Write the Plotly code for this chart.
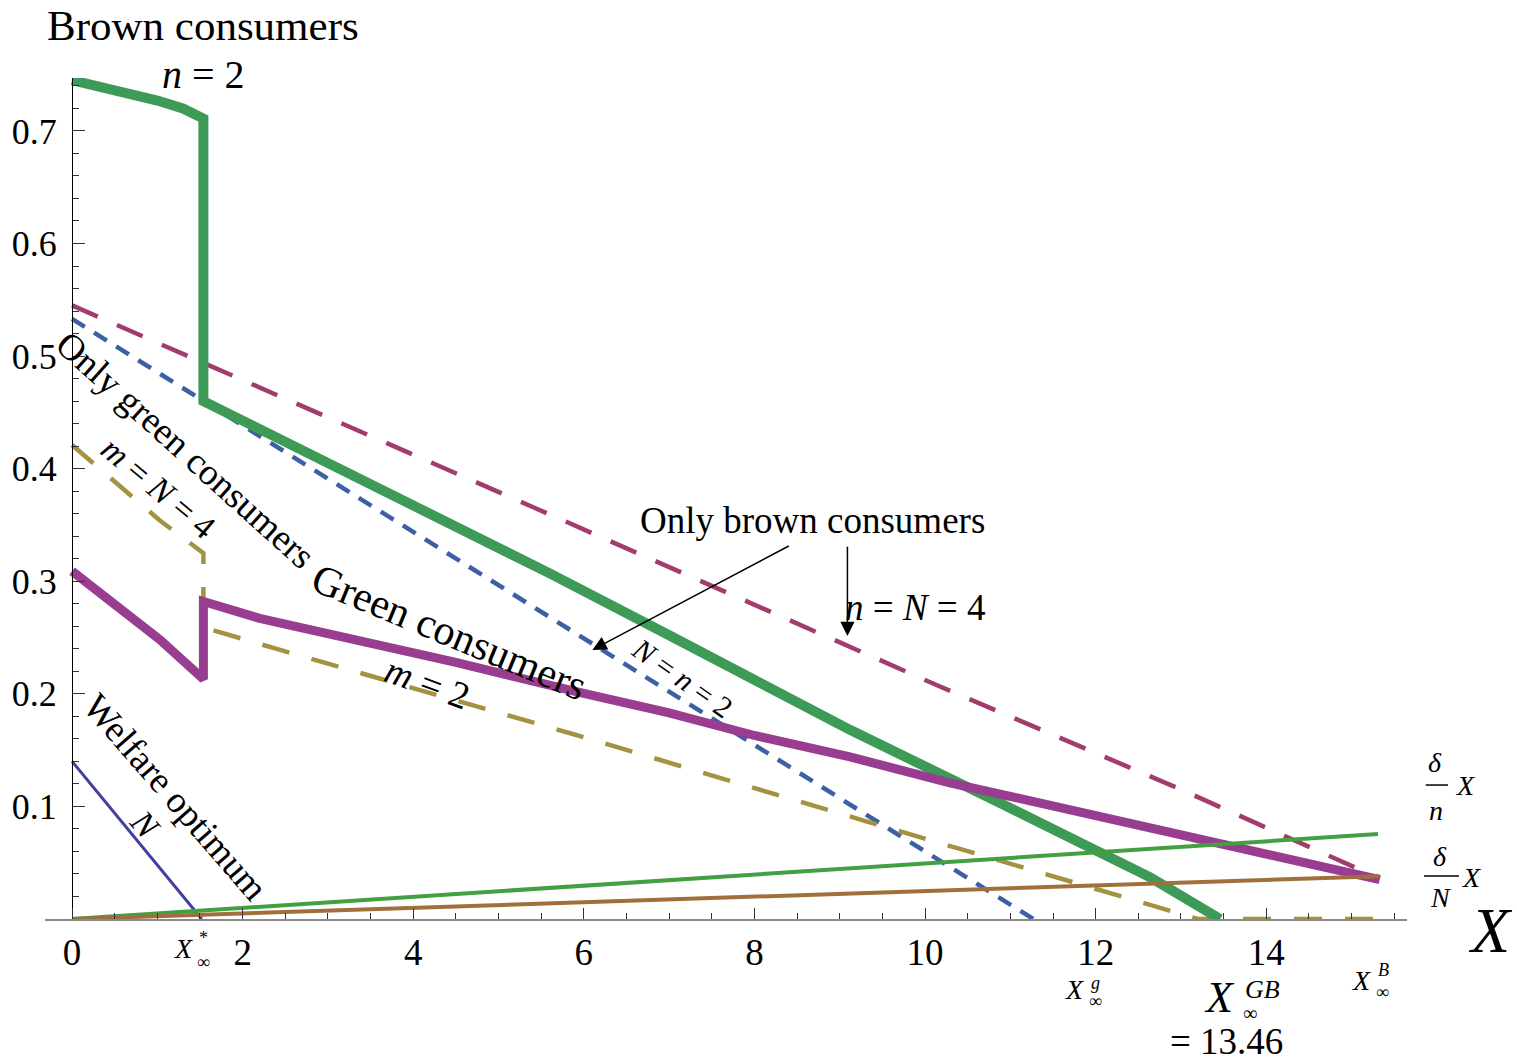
import plotly.graph_objects as go

# ---- data -------------------------------------------------------------
# Brown consumers, n = 2 (thick green)
brown_n2_x = [0, 0.5, 1.0, 1.3, 1.54, 1.54, 2.5, 4.0, 5.6, 7.0, 9.12, 10.88, 12.64, 13.46]
brown_n2_y = [0.745, 0.737, 0.727, 0.720, 0.711, 0.460, 0.424, 0.366, 0.307, 0.252, 0.168, 0.103, 0.037, 0.0]

# Green consumers, m = 2 (thick purple)
green_m2_x = [0, 0.33, 1.03, 1.54, 1.54, 2.2, 3.38, 4.5, 5.96, 7.0, 8.0, 9.12, 10.29, 11.47, 12.64, 13.81, 15.33]
green_m2_y = [0.309, 0.290, 0.248, 0.213, 0.282, 0.267, 0.248, 0.228, 0.201, 0.183, 0.163, 0.144, 0.121, 0.101, 0.082, 0.061, 0.035]

# Only brown consumers, n = N = 4 (dashed)
brown_n4_x = [0, 5.4, 10.1, 13.0, 15.33]
brown_n4_y = [0.545, 0.366, 0.209, 0.115, 0.036]

# Only brown consumers, N = n = 2 (dashed)
brown_N2_x = [0, 9.2, 11.27]
brown_N2_y = [0.533, 0.097, 0.0]

# Only green consumers, m = N = 4 (dashed)
green_N4_x = [0, 1.03, 1.54, 1.54, 2.44, 5.84, 9.3, 11.2, 13.2, 15.33]
green_N4_y = [0.421, 0.354, 0.325, 0.259, 0.239, 0.165, 0.087, 0.045, 0.0, 0.0]

# Welfare optimum N
welfare_x = [0, 1.52]
welfare_y = [0.14, 0.0]

# delta/n * X and delta/N * X
dn_x = [0, 9.12, 12.64, 15.31]
dn_y = [0, 0.0453, 0.063, 0.0755]
dN_x = [0, 9.12, 15.33]
dN_y = [0, 0.023, 0.038]

x_ticks = [0, 2, 4, 6, 8, 10, 12, 14]
y_ticks = [0.1, 0.2, 0.3, 0.4, 0.5, 0.6, 0.7]

# ---- style -----------------------------------------------------------
SERIF = "Liberation Serif"
W, H = 1517, 1062
ML, MR, MT, MB = 45, 110, 78, 143
XR = [-0.317, 15.65]
YR = [0.0, 0.747]

fig = go.Figure()


def line(x, y, color, width, dash="solid"):
    fig.add_trace(go.Scatter(x=x, y=y, mode="lines", cliponaxis=False,
                             line=dict(color=color, width=width, dash=dash),
                             hoverinfo="skip", showlegend=False))


line(brown_n4_x, brown_n4_y, "#a23c6e", 4.5, "28px,21px")
line(brown_N2_x, brown_N2_y, "#3d5fa6", 4.5, "15px,11px")
line(green_N4_x, green_N4_y, "#a39340", 4.5, "28px,23px")
line(brown_n2_x, brown_n2_y, "#3d9b57", 10)
line(green_m2_x, green_m2_y, "#993d91", 9)
line(welfare_x, welfare_y, "#3f3fa0", 3)
line(dn_x, dn_y, "#42a042", 4)
line(dN_x, dN_y, "#a0703c", 4)

annotations = []
shapes = []


def to_paper(x, y):
    return (x - XR[0]) / (XR[1] - XR[0]), (y - YR[0]) / (YR[1] - YR[0])


def label(text, x, y, size, angle=0):
    px, py = to_paper(x, y)
    annotations.append(dict(text=text, x=px, y=py, xref="paper", yref="paper",
                            showarrow=False, textangle=angle,
                            xanchor="center", yanchor="middle",
                            font=dict(family=SERIF, size=size, color="black")))


def bar(x0, x1, y):
    p0, q = to_paper(x0, y)
    p1, _ = to_paper(x1, y)
    shapes.append(dict(type="line", xref="paper", yref="paper", x0=p0, x1=p1, y0=q, y1=q,
                       line=dict(color="black", width=1.5)))


# curve labels
label("Brown consumers", 1.536, 0.794, 43)
label("<i>n</i> = 2", 1.536, 0.750, 40)
label("Only green consumers", 1.325, 0.4166, 37, 42)
label("<i>m</i> = <i>N</i> = 4", 1.008, 0.383, 34, 40)
label("Green consumers", 4.42, 0.255, 42, 22.5)
label("<i>m</i> = 2", 4.17, 0.2096, 38, 20)
label("Only brown consumers", 8.675, 0.3544, 37)
label("<i>n</i> = <i>N</i> = 4", 9.883, 0.2763, 37)
label("<i>N</i> = <i>n</i> = 2", 7.151, 0.2141, 30, 35)
label("Welfare optimum", 1.2075, 0.1084, 37, 49)
label("<i>N</i>", 0.856, 0.0835, 34, 48)

# arrows from "Only brown consumers"
for hx, hy, tx, ty in [(6.10, 0.239, 8.42, 0.332), (9.09, 0.2514, 9.09, 0.332)]:
    annotations.append(dict(x=hx, y=hy, ax=tx, ay=ty, xref="x", yref="y", axref="x", ayref="y",
                            text="", showarrow=True, arrowhead=2, arrowsize=1.9,
                            arrowwidth=1.5, arrowcolor="black"))

# markers on the X axis
label("<i>X</i>", 1.301, -0.0258, 28)
label("*", 1.536, -0.0169, 18)
label("∞", 1.536, -0.0382, 18)

label("<i>X</i>", 11.747, -0.0625, 28)
label("<i>g</i>", 11.993, -0.0565, 18)
label("∞", 11.993, -0.0725, 18)

label("<i>X</i>", 13.447, -0.0700, 44)
label("<i>GB</i>", 13.951, -0.0625, 26)
label("∞", 13.81, -0.0835, 20)
label("= 13.46", 13.529, -0.1084, 37)

label("<i>X</i>", 15.111, -0.0542, 28)
label("<i>B</i>", 15.369, -0.0453, 18)
label("∞", 15.357, -0.0648, 18)

label("<i>X</i>", 16.624, -0.0098, 64)

# δ/n X and δ/N X
label("<i>δ</i>", 15.979, 0.1386, 28)
bar(15.87, 16.13, 0.119)
label("<i>n</i>", 15.99, 0.0968, 28)
label("<i>X</i>", 16.33, 0.119, 28)

label("<i>δ</i>", 16.04, 0.0551, 28)
bar(15.85, 16.26, 0.0382)
label("<i>N</i>", 16.04, 0.0187, 28)
label("<i>X</i>", 16.41, 0.0373, 28)

y_axis_pos = (0 - XR[0]) / (XR[1] - XR[0])

fig.update_layout(
    width=W, height=H, autosize=False,
    margin=dict(l=ML, r=MR, t=MT, b=MB, pad=0),
    paper_bgcolor="white", plot_bgcolor="white",
    font=dict(family=SERIF, color="black"),
    showlegend=False,
    annotations=annotations,
    shapes=shapes,
    xaxis=dict(range=XR, showgrid=False, zeroline=False,
               showline=True, linecolor="#8a8a8a", linewidth=1.5,
               ticks="inside", ticklen=11, tickwidth=1.2, tickcolor="#333",
               tickmode="array", tickvals=x_ticks, ticktext=[str(v) for v in x_ticks],
               tickfont=dict(family=SERIF, size=37, color="black"),
               ticklabelstandoff=0,
               minor=dict(tickmode="linear", tick0=0, dtick=0.5, ticks="inside",
                          ticklen=6, tickwidth=1, tickcolor="#333")),
    yaxis=dict(range=YR, showgrid=False, zeroline=False,
               anchor="free", position=y_axis_pos,
               showline=True, linecolor="black", linewidth=1.2,
               ticks="inside", ticklen=12, tickwidth=1.2, tickcolor="#333",
               tickmode="array", tickvals=y_ticks, ticktext=[f"{v:.1f}" for v in y_ticks],
               tickfont=dict(family=SERIF, size=36, color="black"),
               ticklabelstandoff=8,
               minor=dict(tickmode="linear", tick0=0, dtick=0.02, ticks="inside",
                          ticklen=6, tickwidth=1, tickcolor="#333")),
)

fig.write_html("out.html")
